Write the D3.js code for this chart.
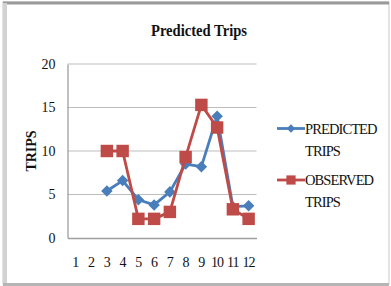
<!DOCTYPE html>
<html>
<head>
<meta charset="utf-8">
<script src="https://cdn.jsdelivr.net/npm/d3@7"></script>
<style>
  body { margin: 0; background: #fff; }
  svg text { font-family: "Liberation Serif", serif; fill: #111; }
</style>
</head>
<body>
<div id="chart"></div>
<script>
const months = ["1", "2", "3", "4", "5", "6", "7", "8", "9", "10", "11", "12"];
const predicted = [null, null, 5.4, 6.6, 4.4, 3.8, 5.3, 8.5, 8.2, 14.0, 3.6, 3.7];
const observed = [null, null, 10, 10, 2.2, 2.2, 3.0, 9.3, 15.3, 12.7, 3.3, 2.2];
const yTicks = [0, 5, 10, 15, 20];
const seriesNames = [["PREDICTED", "TRIPS"], ["OBSERVED", "TRIPS"]];

const width = 391, height = 286;
const plot = { left: 67.5, right: 256.5, top: 64, bottom: 238 };
const blue = "#4a7ebb", red = "#be4b48";

const svg = d3.select("#chart").append("svg")
  .attr("width", width)
  .attr("height", height);

// frame round the chart
svg.append("rect").attr("x", 3).attr("y", 2).attr("width", 386).attr("height", 282)
  .attr("fill", "#fff").attr("stroke", "#c8c8c8").attr("stroke-width", 1);
svg.append("line").attr("x1", 3).attr("x2", 389).attr("y1", 3).attr("y2", 3)
  .attr("stroke", "#9a9a9a").attr("stroke-width", 3);
svg.append("line").attr("x1", 5).attr("x2", 5).attr("y1", 3).attr("y2", 285)
  .attr("stroke", "#d2d2d2").attr("stroke-width", 4);
svg.append("line").attr("x1", 3).attr("x2", 389).attr("y1", 284.5).attr("y2", 284.5)
  .attr("stroke", "#b5b5b5").attr("stroke-width", 3);

const x = d3.scaleBand().domain(months).range([plot.left, plot.right]);
const y = d3.scaleLinear().domain([0, 20]).range([plot.bottom, plot.top]);

// gridlines
svg.append("g")
  .selectAll("line")
  .data(yTicks.slice(1))
  .join("line")
  .attr("x1", plot.left).attr("x2", plot.right)
  .attr("y1", d => y(d)).attr("y2", d => y(d))
  .attr("stroke", "#bdbdbd").attr("stroke-width", 1.2);

// axes
const yAxis = svg.append("g")
  .attr("transform", `translate(${plot.left},0)`)
  .call(d3.axisLeft(y).tickValues(yTicks).tickSize(0).tickPadding(12));
yAxis.select(".domain").attr("stroke", "#9f9f9f").attr("stroke-width", 1.3);
yAxis.selectAll("text").attr("font-size", 14);

const xAxis = svg.append("g")
  .attr("transform", `translate(0,${plot.bottom})`)
  .call(d3.axisBottom(x).tickSize(0).tickPadding(19));
xAxis.select(".domain").attr("stroke", "#9f9f9f").attr("stroke-width", 1.3);
xAxis.selectAll("text").attr("font-size", 14).attr("letter-spacing", -0.8);

// titles
svg.append("text")
  .attr("x", 199).attr("y", 36)
  .attr("text-anchor", "middle")
  .attr("font-size", 16).attr("font-weight", "bold")
  .attr("textLength", 96).attr("lengthAdjust", "spacingAndGlyphs")
  .text("Predicted Trips");

svg.append("text")
  .attr("transform", "translate(36,151) rotate(-90)")
  .attr("text-anchor", "middle")
  .attr("font-size", 14).attr("font-weight", "bold")
  .text("TRIPS");

const line = d3.line()
  .defined(d => d[1] != null)
  .x(d => x(d[0]) + x.bandwidth() / 2)
  .y(d => y(d[1]));

const diamond = d3.symbol().type(d3.symbolDiamond2);
const square = d3.symbol().type(d3.symbolSquare);

function drawSeries(values, color, shape, size) {
  const pts = months.map((m, i) => [m, values[i]]);
  svg.append("path")
    .datum(pts)
    .attr("fill", "none")
    .attr("stroke", color)
    .attr("stroke-width", 2.8)
    .attr("stroke-linejoin", "round")
    .attr("d", line);
  svg.append("g")
    .selectAll("path")
    .data(pts.filter(d => d[1] != null))
    .join("path")
    .attr("transform", d => `translate(${x(d[0]) + x.bandwidth() / 2},${y(d[1])})`)
    .attr("d", shape.size(size)())
    .attr("fill", color);
}

drawSeries(predicted, blue, diamond, 85);
drawSeries(observed, red, square, 155);

// legend
const legend = svg.append("g");
const legendRows = [
  { names: seriesNames[0], color: blue, shape: diamond, size: 45, y: 128.5 },
  { names: seriesNames[1], color: red, shape: square, size: 85, y: 180 }
];
legendRows.forEach(r => {
  legend.append("line")
    .attr("x1", 277).attr("x2", 305)
    .attr("y1", r.y).attr("y2", r.y)
    .attr("stroke", r.color).attr("stroke-width", 2.8);
  legend.append("path")
    .attr("transform", `translate(291,${r.y})`)
    .attr("d", r.shape.size(r.size)())
    .attr("fill", r.color);
  legend.append("text")
    .attr("x", 305).attr("y", r.y + 5)
    .attr("font-size", 14.5)
    .attr("letter-spacing", -0.9)
    .text(r.names[0]);
  legend.append("text")
    .attr("x", 305).attr("y", r.y + 27)
    .attr("font-size", 14.5)
    .attr("letter-spacing", -0.9)
    .text(r.names[1]);
});
</script>
</body>
</html>
